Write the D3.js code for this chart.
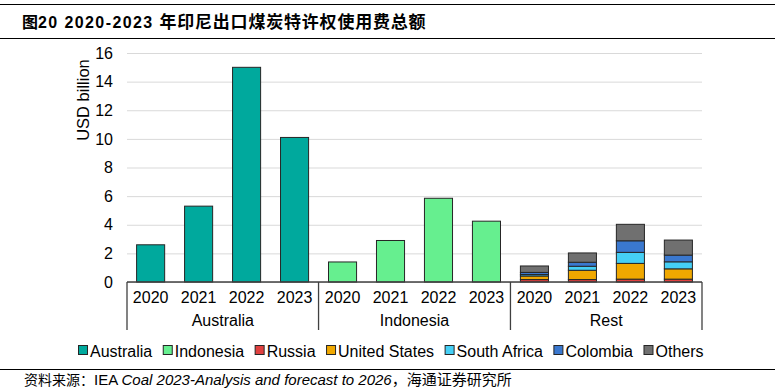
<!DOCTYPE html>
<html>
<head>
<meta charset="utf-8">
<script src="https://cdn.jsdelivr.net/npm/d3@7"></script>
<style>
  body { margin: 0; background: #fff; }
  svg { display: block; }
</style>
</head>
<body>
<svg id="chart" width="775" height="389"></svg>
<script>
  // chart values
  var years = ["2020", "2021", "2022", "2023"];
  var groups = ["Australia", "Indonesia", "Rest"];
  var series = ["Australia", "Indonesia", "Russia", "United States", "South Africa", "Colombia", "Others"];
  var australia = [2.6, 5.3, 15.0, 10.1];
  var indonesia = [1.4, 2.9, 5.85, 4.25];
  var russia = [0.17, 0.17, 0.2, 0.2];
  var unitedStates = [0.25, 0.65, 1.1, 0.72];
  var southAfrica = [0.1, 0.28, 0.77, 0.49];
  var colombia = [0.15, 0.28, 0.81, 0.47];
  var others = [0.45, 0.65, 1.15, 1.05];
  var yTicks = [0, 2, 4, 6, 8, 10, 12, 14, 16];

  var colors = {
    "Australia": "#00a99d", "Indonesia": "#66ef8f", "Russia": "#e0403f",
    "United States": "#f0a800", "South Africa": "#45cff5", "Colombia": "#3a78cf", "Others": "#707070"
  };

  // one row per group/year, zero where the series does not apply
  var rows = [];
  groups.forEach(function(g) {
    years.forEach(function(yr, i) {
      var r = {key: g + "|" + yr, group: g, year: yr};
      series.forEach(function(s) { r[s] = 0; });
      if (g == "Australia") r["Australia"] = australia[i];
      if (g == "Indonesia") r["Indonesia"] = indonesia[i];
      if (g == "Rest") {
        r["Russia"] = russia[i];
        r["United States"] = unitedStates[i];
        r["South Africa"] = southAfrica[i];
        r["Colombia"] = colombia[i];
        r["Others"] = others[i];
      }
      rows.push(r);
    });
  });

  var svg = d3.select("#chart");
  var plotLeft = 127, plotRight = 702, plotTop = 53, plotBottom = 282;
  var font = "'Liberation Sans', Arial, sans-serif";
  var cjk = "'Noto Sans CJK SC', sans-serif";

  // title and rules
  svg.append("line").attr("x1", 0).attr("x2", 775).attr("y1", 4.5).attr("y2", 4.5)
    .attr("stroke", "#000").attr("stroke-width", 1);
  var title = svg.append("text").attr("x", 22).attr("y", 28)
    .attr("font-size", 16).attr("font-weight", "bold").attr("fill", "#000");
  title.append("tspan").attr("font-family", cjk).text("图");
  title.append("tspan").attr("font-family", font).attr("letter-spacing", 1.4).text("20 2020-2023 ");
  title.append("tspan").attr("font-family", cjk).attr("font-size", 17).attr("letter-spacing", 0.8)
    .text("年印尼出口煤炭特许权使用费总额");
  svg.append("line").attr("x1", 0).attr("x2", 775).attr("y1", 38.5).attr("y2", 38.5)
    .attr("stroke", "#000").attr("stroke-width", 1.2);

  var x = d3.scaleBand()
    .domain(rows.map(function(d) { return d.key; }))
    .range([plotLeft, plotRight])
    .paddingInner(0.415)
    .paddingOuter(0.2);

  var y = d3.scaleLinear().domain([0, 16]).range([plotBottom, plotTop]);

  // gridlines + y labels
  var yAxis = svg.append("g").attr("transform", "translate(" + plotLeft + ",0)")
    .call(d3.axisLeft(y).tickValues(yTicks).tickSize(-(plotRight - plotLeft)).tickPadding(14));
  yAxis.select(".domain").remove();
  yAxis.selectAll(".tick line").attr("stroke", "#d9d9d9").attr("stroke-width", 1);
  yAxis.selectAll(".tick text").attr("font-family", font).attr("font-size", 16).attr("fill", "#000");

  svg.append("text")
    .attr("transform", "translate(89,100) rotate(-90)")
    .attr("text-anchor", "middle")
    .attr("font-family", font).attr("font-size", 16.5).attr("fill", "#000")
    .text("USD billion");

  // stacked bars
  var stacked = d3.stack().keys(series)(rows);
  stacked.forEach(function(layer) {
    svg.append("g").selectAll("rect")
      .data(layer.filter(function(d) { return d[1] - d[0] > 0; }))
      .join("rect")
      .attr("x", function(d) { return x(d.data.key); })
      .attr("width", x.bandwidth())
      .attr("y", function(d) { return y(d[1]); })
      .attr("height", function(d) { return y(d[0]) - y(d[1]); })
      .attr("fill", colors[layer.key])
      .attr("stroke", "#262626")
      .attr("stroke-width", 1);
  });

  // category axis: baseline, group separators, year and group labels
  svg.append("line").attr("x1", plotLeft).attr("x2", plotRight).attr("y1", plotBottom).attr("y2", plotBottom)
    .attr("stroke", "#404040").attr("stroke-width", 1.3);
  var groupEdges = [plotLeft];
  groups.forEach(function(g, i) {
    if (i > 0) groupEdges.push(x(g + "|2020") - x.step() * x.paddingInner() / 2);
  });
  groupEdges.push(plotRight);
  svg.append("g").selectAll("line").data(groupEdges).join("line")
    .attr("x1", function(d) { return d; }).attr("x2", function(d) { return d; })
    .attr("y1", plotBottom).attr("y2", 330)
    .attr("stroke", "#404040").attr("stroke-width", 1.3);

  svg.append("g").selectAll("text").data(rows).join("text")
    .attr("x", function(d) { return x(d.key) + x.bandwidth() / 2; })
    .attr("y", 303)
    .attr("text-anchor", "middle")
    .attr("font-family", font).attr("font-size", 16).attr("fill", "#000")
    .text(function(d) { return d.year; });

  svg.append("g").selectAll("text").data(groups).join("text")
    .attr("x", function(d, i) { return (groupEdges[i] + groupEdges[i + 1]) / 2; })
    .attr("y", 326)
    .attr("text-anchor", "middle")
    .attr("font-family", font).attr("font-size", 16).attr("fill", "#000")
    .text(function(d) { return d; });

  // legend
  var legend = svg.append("g").attr("transform", "translate(78,351)");
  var lx = 0;
  series.forEach(function(s) {
    var item = legend.append("g").attr("transform", "translate(" + lx + ",0)");
    item.append("rect").attr("x", 0.5).attr("y", -5.5).attr("width", 9).attr("height", 9)
      .attr("fill", colors[s]).attr("stroke", "#262626").attr("stroke-width", 1);
    var t = item.append("text").attr("x", 12).attr("y", 0).attr("dy", "0.35em")
      .attr("font-family", font).attr("font-size", 16).attr("fill", "#000").text(s);
    lx += 12 + t.node().getComputedTextLength() + 10.5;
  });

  // source
  svg.append("line").attr("x1", 0).attr("x2", 775).attr("y1", 369.5).attr("y2", 369.5)
    .attr("stroke", "#000").attr("stroke-width", 1.2);
  var src = svg.append("text").attr("x", 24).attr("y", 385).attr("font-size", 15).attr("fill", "#000");
  src.append("tspan").attr("font-family", cjk).attr("font-size", 14).text("资料来源：");
  src.append("tspan").attr("font-family", font).text("IEA ");
  src.append("tspan").attr("font-family", font).attr("font-style", "italic").text("Coal 2023-Analysis and forecast to 2026");
  src.append("tspan").attr("font-family", cjk).text("，海通证券研究所");
</script>
</body>
</html>
